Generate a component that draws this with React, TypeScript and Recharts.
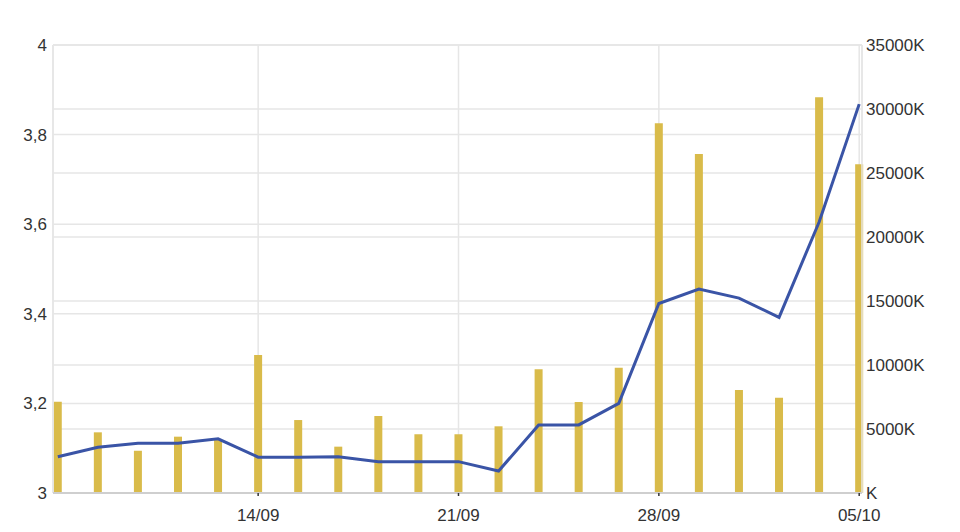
import React from 'react';
import { ComposedChart, Bar, Line, XAxis, YAxis, CartesianGrid, ReferenceLine } from 'recharts';

// trading days, Sept - Oct
const dates = [
  '07/09', '08/09', '09/09', '10/09', '11/09',
  '14/09', '15/09', '16/09', '17/09', '18/09',
  '21/09', '22/09', '23/09', '24/09', '25/09',
  '28/09', '29/09', '30/09', '01/10', '02/10',
  '05/10',
];

// volume in thousands (right axis)
const volume = [
  7130, 4740, 3300, 4400, 4140,
  10780, 5700, 3620, 6015, 4590,
  4590, 5210, 9660, 7110, 9790,
  28880, 26480, 8050, 7450, 30910,
  25680,
];

// price (left axis)
const price = [
  3.081, 3.102, 3.111, 3.111, 3.121,
  3.08, 3.08, 3.081, 3.07, 3.07,
  3.07, 3.049, 3.152, 3.152, 3.2,
  3.423, 3.455, 3.435, 3.392, 3.605,
  3.868,
];

const leftTicks = [3, 3.2, 3.4, 3.6, 3.8, 4];
const rightTicks = [0, 5000, 10000, 15000, 20000, 25000, 30000, 35000];
const dateTicks = [5, 10, 15, 20];

const data = dates.map((d, i) => ({ i, date: d, volume: volume[i], price: price[i] }));

const xMin = -0.12;
const xMax = 20.07;
const tickStyle = { fill: '#333', fontSize: 17, fontFamily: 'Liberation Sans, Arial, sans-serif' };

export default function App() {
  return (
    <div style={{ width: 944, height: 520 }}>
      <ComposedChart width={944} height={520} data={data} margin={{ top: 37, right: 0, bottom: 0, left: 0 }}>
        <CartesianGrid yAxisId="left" vertical={false} stroke="#e6e6e6" strokeWidth={1.5} />
        <CartesianGrid yAxisId="right" stroke="#e6e6e6" strokeWidth={1.5} />
        <XAxis
          type="number"
          dataKey="i"
          domain={[xMin, xMax]}
          ticks={dateTicks}
          tickFormatter={(v: number) => dates[v]}
          tick={tickStyle}
          axisLine={{ stroke: '#cfcfcf', strokeWidth: 2 }}
          tickLine={{ stroke: '#333', strokeWidth: 1.5 }}
          tickSize={3}
          tickMargin={13}
          height={35}
        />
        <YAxis
          yAxisId="left"
          orientation="left"
          domain={[3, 4]}
          ticks={leftTicks}
          tickFormatter={(v: number) => String(v).replace('.', ',')}
          tick={tickStyle}
          axisLine={false}
          tickLine={false}
          tickSize={0}
          tickMargin={6}
          width={45}
        />
        <YAxis
          yAxisId="right"
          orientation="right"
          domain={[0, 35000]}
          ticks={rightTicks}
          tickFormatter={(v: number) => (v === 0 ? 'K' : v + 'K')}
          tick={{ ...tickStyle, textAnchor: 'start' }}
          axisLine={false}
          tickLine={false}
          tickSize={0}
          tickMargin={4}
          width={90}
        />
        <ReferenceLine yAxisId="right" x={xMin} stroke="#e6e6e6" strokeWidth={1.5} />
        <ReferenceLine yAxisId="right" x={xMax} stroke="#e6e6e6" strokeWidth={1.5} />
        <Bar yAxisId="right" dataKey="volume" fill="#d9bb4a" barSize={8} isAnimationActive={false} />
        <Line
          yAxisId="left"
          type="linear"
          dataKey="price"
          stroke="#3a54a6"
          strokeWidth={3}
          dot={false}
          activeDot={false}
          isAnimationActive={false}
        />
      </ComposedChart>
    </div>
  );
}
